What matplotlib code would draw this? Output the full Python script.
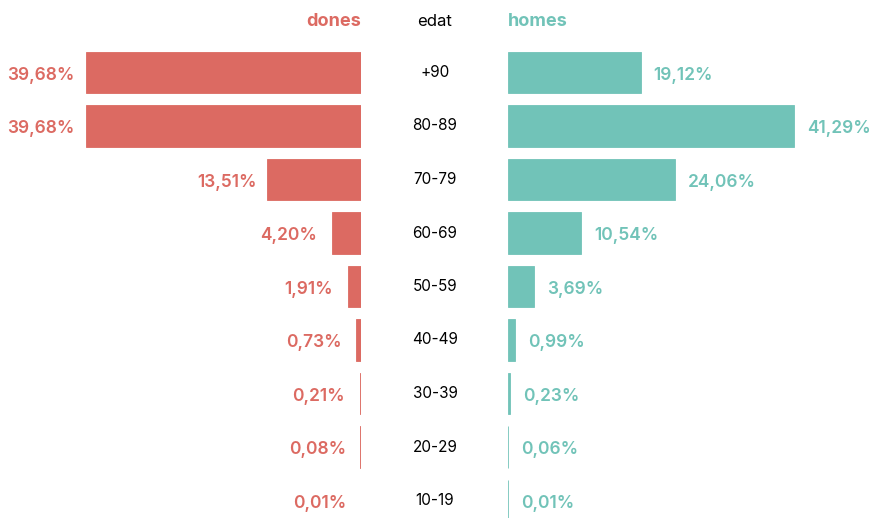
import matplotlib
matplotlib.use("Agg")
import matplotlib.pyplot as plt

ages = ["+90", "80-89", "70-79", "60-69", "50-59", "40-49", "30-39", "20-29", "10-19"]
dones = [39.68, 39.68, 13.51, 4.20, 1.91, 0.73, 0.21, 0.08, 0.01]
homes = [19.12, 41.29, 24.06, 10.54, 3.69, 0.99, 0.23, 0.06, 0.01]

c_d = "#DC6A62"
c_h = "#71C3B8"
FONT = ["Inter", "DejaVu Sans"]
plt.rcParams["font.family"] = FONT

W, H = 872, 518
fig = plt.figure(figsize=(W / 100, H / 100), dpi=100)
scale = 6.93  # px per percent
row0, step = 72.5, 53.5
ytop = -row0 / step
ybot = (H - row0) / step

def fmt(v):
    return f"{v:.2f}".replace(".", ",") + "%"

xl_end = 361
axl = fig.add_axes([0, 0, xl_end / W, 1])
axl.set_xlim(xl_end / scale, 0)
axl.set_ylim(ybot, ytop)
xr_start = 508
axr = fig.add_axes([xr_start / W, 0, (W - xr_start) / W, 1])
axr.set_xlim(0, (W - xr_start) / scale)
axr.set_ylim(ybot, ytop)
for ax in (axl, axr):
    ax.axis("off")

ypos = list(range(len(ages)))
axl.barh(ypos, dones, height=0.78, color=c_d, edgecolor=c_d, linewidth=0.6)
axr.barh(ypos, homes, height=0.78, color=c_h, edgecolor=c_h, linewidth=0.6)

for y, v in zip(ypos, dones):
    off = -8 if v > 10 else -10.5
    axl.annotate(fmt(v), (v, y), xytext=(off, -2), textcoords="offset points",
                 ha="right", va="center", color=c_d, fontsize=12.5, fontweight="semibold")
for y, v in zip(ypos, homes):
    axr.annotate(fmt(v), (v, y), xytext=(9.5, -2), textcoords="offset points",
                 ha="left", va="center", color=c_h, fontsize=12.5, fontweight="semibold")
for y, a in zip(ypos, ages):
    fig.text(435 / W, 1 - (row0 + step * y) / H, a, ha="center", va="center",
             fontsize=11, color="black")

hy = 1 - 21 / H
fig.text(xl_end / W, hy, "dones", ha="right", va="center", color=c_d,
         fontsize=13, fontweight="bold")
fig.text(435 / W, hy, "edat", ha="center", va="center", color="black", fontsize=12)
fig.text(xr_start / W, hy, "homes", ha="left", va="center", color=c_h,
         fontsize=13, fontweight="bold")

fig.savefig("out.png", dpi=100, facecolor="white")
